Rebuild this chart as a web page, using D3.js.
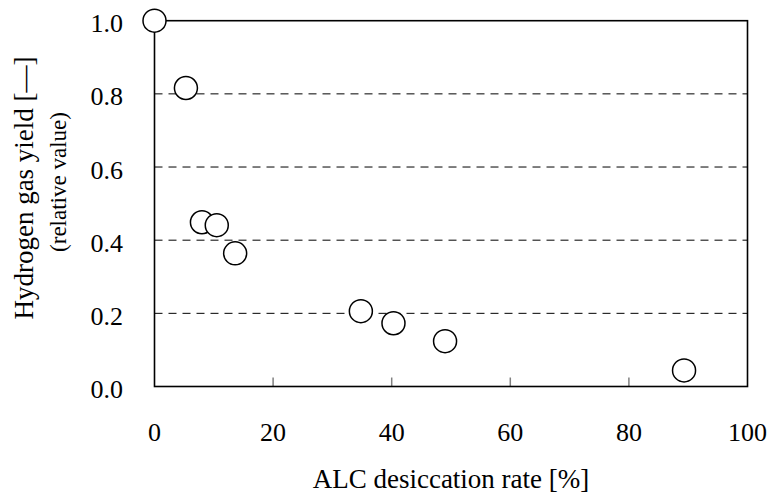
<!DOCTYPE html>
<html>
<head>
<meta charset="utf-8">
<script src="https://cdn.jsdelivr.net/npm/d3@7"></script>
<style>
  body { margin: 0; background: #fff; }
  text { font-family: "Liberation Serif", "Times New Roman", serif; fill: #000; }
</style>
</head>
<body>
<svg id="chart" width="771" height="495"></svg>
<script>
// desiccation rate [%] and relative hydrogen yield
var rate = [0, 5.3, 8.0, 10.5, 13.6, 34.8, 40.3, 49.0, 89.3];
var yieldRel = [1.0, 0.816, 0.449, 0.441, 0.364, 0.206, 0.173, 0.124, 0.044];
var xTicks = [0, 20, 40, 60, 80, 100];
var yTicks = [0.0, 0.2, 0.4, 0.6, 0.8, 1.0];

var svg = d3.select("#chart");
// plot box (note: "top" is a reserved window property, so use other names)
var plotL = 154.5, plotR = 747.5, plotT = 20.7, plotB = 386.5;

var x = d3.scaleLinear().domain([0, 100]).range([plotL, plotR]);
var y = d3.scaleLinear().domain([0, 1]).range([plotB, plotT]);

// dashed gridlines
svg.selectAll("line.grid")
    .data(yTicks.filter(d => d > 0 && d < 1))
    .enter()
    .append("line")
    .attr("class", "grid")
    .attr("x1", plotL)
    .attr("x2", plotR)
    .attr("y1", d => y(d))
    .attr("y2", d => y(d))
    .attr("stroke", "#000")
    .attr("stroke-width", 1)
    .attr("stroke-dasharray", "8,6");

// inner ticks on x axis
svg.selectAll("line.xtick")
    .data(xTicks.filter(d => d > 0 && d < 100))
    .enter()
    .append("line")
    .attr("class", "xtick")
    .attr("x1", d => x(d))
    .attr("x2", d => x(d))
    .attr("y1", plotB)
    .attr("y2", plotB - 9)
    .attr("stroke", "#808080")
    .attr("stroke-width", 1.5);

// frame
svg.append("rect")
    .attr("x", plotL)
    .attr("y", plotT)
    .attr("width", plotR - plotL)
    .attr("height", plotB - plotT)
    .attr("fill", "none")
    .attr("stroke", "#000")
    .attr("stroke-width", 1.6);

// tick labels
svg.selectAll("text.xl")
    .data(xTicks)
    .enter()
    .append("text")
    .attr("class", "xl")
    .attr("x", d => x(d))
    .attr("y", 441)
    .attr("text-anchor", "middle")
    .style("font-size", "26px")
    .text(d => d);

svg.selectAll("text.yl")
    .data(yTicks)
    .enter()
    .append("text")
    .attr("class", "yl")
    .attr("x", 123)
    .attr("y", d => y(d) + 11.5)
    .attr("text-anchor", "end")
    .style("font-size", "26px")
    .text(d => d3.format(".1f")(d));

// axis titles
svg.append("text")
    .attr("x", x(50))
    .attr("y", 488)
    .attr("text-anchor", "middle")
    .style("font-size", "27px")
    .text("ALC desiccation rate [%]");

svg.append("text")
    .attr("transform", "translate(33,188) rotate(-90)")
    .attr("text-anchor", "middle")
    .style("font-size", "27px")
    .text("Hydrogen gas yield [\u2014]");

svg.append("text")
    .attr("transform", "translate(66,182) rotate(-90)")
    .attr("text-anchor", "middle")
    .style("font-size", "23px")
    .text("(relative value)");

// points
svg.selectAll("circle")
    .data(rate.map((r, i) => ({r: r, v: yieldRel[i]})))
    .enter()
    .append("circle")
    .attr("cx", d => x(d.r))
    .attr("cy", d => y(d.v))
    .attr("r", 11.5)
    .attr("fill", "#fff")
    .attr("stroke", "#000")
    .attr("stroke-width", 1.5);
</script>
</body>
</html>
